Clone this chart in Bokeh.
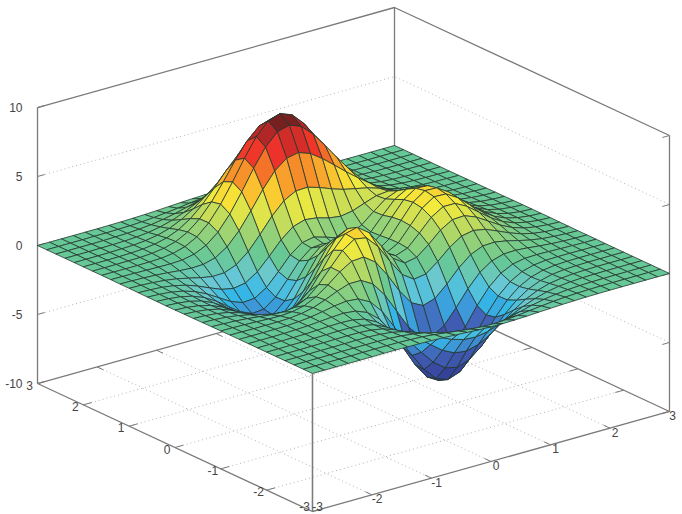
from bokeh.plotting import figure
from bokeh.models import Range1d
from bokeh.core.properties import value
from bokeh.embed import file_html
from bokeh.resources import INLINE

# Surface heights, typed by hand as estimates on the picture's 0.2 mesh (30 cells a side).
# The picture looks like the well-known "peaks" surface, so that shape guided the
# estimates, checked against the extrema seen in the picture.
grid_x = [-3, -2.8, -2.6, -2.4, -2.2, -2, -1.8, -1.6, -1.4, -1.2, -1, -.8, -.6, -.4, -.2, 0,
          .2, .4, .6, .8, 1, 1.2, 1.4, 1.6, 1.8, 2, 2.2, 2.4, 2.6, 2.8, 3]
grid_y = [-3, -2.8, -2.6, -2.4, -2.2, -2, -1.8, -1.6, -1.4, -1.2, -1, -.8, -.6, -.4, -.2, 0,
          .2, .4, .6, .8, 1, 1.2, 1.4, 1.6, 1.8, 2, 2.2, 2.4, 2.6, 2.8, 3]
heights = [
    [0,0,0,0,0,0,.01,.01,0,-.01,-.03,-.06,-.11,-.16,-.21,-.24,-.25,-.23,-.2,-.15,-.11,-.07,-.04,-.02,-.01,0,0,0,0,0,0],
    [0,0,0,0,0,.01,.01,.01,0,-.03,-.07,-.15,-.26,-.37,-.48,-.55,-.57,-.53,-.45,-.35,-.25,-.16,-.09,-.05,-.02,-.01,0,0,0,0,0],
    [0,0,0,0,.01,.01,.01,.01,-.01,-.07,-.17,-.33,-.55,-.79,-1.01,-1.15,-1.18,-1.1,-.94,-.72,-.5,-.32,-.19,-.1,-.05,-.02,-.01,0,0,0,0],
    [0,0,0,.01,.01,.02,.03,.02,-.02,-.12,-.31,-.61,-1.0,-1.43,-1.83,-2.09,-2.15,-2.01,-1.7,-1.31,-.91,-.58,-.33,-.17,-.08,-.03,-.01,0,0,0,0],
    [0,0,0,.01,.02,.03,.04,.03,-.03,-.18,-.48,-.95,-1.58,-2.28,-2.93,-3.36,-3.48,-3.25,-2.76,-2.12,-1.47,-.93,-.53,-.27,-.13,-.05,-.02,0,0,0,0],
    [0,0,.01,.01,.03,.05,.07,.07,0,-.19,-.59,-1.24,-2.14,-3.15,-4.1,-4.76,-4.96,-4.66,-3.96,-3.03,-2.1,-1.31,-.74,-.37,-.16,-.06,-.02,0,0,0,0],
    [0,0,.01,.02,.03,.07,.11,.13,.09,-.09,-.53,-1.29,-2.38,-3.68,-4.93,-5.83,-6.16,-5.84,-4.97,-3.8,-2.61,-1.6,-.87,-.42,-.17,-.05,-.01,0,0,0,0],
    [0,0,0,.01,.04,.08,.15,.22,.27,.18,-.16,-.87,-1.99,-3.42,-4.89,-6.03,-6.54,-6.28,-5.38,-4.09,-2.76,-1.63,-.83,-.34,-.1,0,.02,.02,.01,.01,0],
    [0,0,0,0,.02,.07,.16,.31,.48,.59,.51,.06,-.86,-2.2,-3.73,-5.04,-5.77,-5.7,-4.92,-3.68,-2.38,-1.28,-.52,-.1,.07,.1,.08,.05,.03,.01,.01],
    [0,-.01,-.02,-.02,-.02,.01,.11,.3,.62,1.0,1.3,1.3,.81,-.23,-1.64,-3.04,-3.98,-4.18,-3.64,-2.61,-1.47,-.53,.06,.32,.35,.28,.18,.1,.05,.02,.01],
    [-.01,-.02,-.04,-.07,-.11,-.13,-.07,.12,.53,1.15,1.86,2.38,2.44,1.84,.66,-.73,-1.83,-2.28,-2.0,-1.2,-.27,.45,.83,.87,.72,.5,.3,.16,.08,.03,.01],
    [-.01,-.04,-.08,-.15,-.25,-.36,-.4,-.29,.12,.87,1.88,2.86,3.44,3.29,2.4,1.09,-.09,-.68,-.54,.12,.91,1.48,1.65,1.49,1.13,.75,.44,.23,.11,.05,.02],
    [-.02,-.05,-.12,-.24,-.42,-.65,-.85,-.91,-.63,.12,1.28,2.56,3.52,3.74,3.11,1.93,.78,.19,.36,1.05,1.85,2.36,2.41,2.07,1.54,1.01,.59,.31,.15,.06,.02],
    [-.03,-.07,-.16,-.32,-.59,-.95,-1.33,-1.6,-1.51,-.9,.26,1.68,2.87,3.34,2.93,1.9,.87,.41,.72,1.57,2.47,3.0,2.99,2.54,1.87,1.22,.71,.37,.18,.07,.03],
    [-.03,-.08,-.19,-.39,-.72,-1.2,-1.74,-2.2,-2.33,-1.89,-.82,.61,1.91,2.55,2.31,1.46,.6,.31,.79,1.8,2.82,3.4,3.37,2.85,2.1,1.37,.79,.41,.2,.08,.03],
    [-.04,-.09,-.21,-.43,-.8,-1.33,-1.98,-2.58,-2.86,-2.58,-1.65,-.29,1.02,1.75,1.66,.98,.29,.16,.77,1.87,2.94,3.54,3.5,2.95,2.17,1.41,.82,.43,.2,.08,.03],
    [-.04,-.09,-.2,-.42,-.79,-1.34,-2.01,-2.66,-3.03,-2.88,-2.1,-.88,.36,1.1,1.11,.6,.07,.04,.7,1.79,2.82,3.4,3.35,2.83,2.07,1.35,.78,.41,.19,.08,.03],
    [-.03,-.08,-.18,-.38,-.72,-1.22,-1.84,-2.46,-2.85,-2.77,-2.14,-1.09,0,.7,.78,.41,.01,.05,.66,1.62,2.53,3.03,2.98,2.51,1.84,1.2,.69,.36,.17,.07,.03],
    [-.03,-.07,-.15,-.32,-.6,-1.01,-1.53,-2.04,-2.36,-2.29,-1.75,-.84,.13,.78,.94,.69,.39,.41,.86,1.58,2.25,2.6,2.51,2.09,1.52,.99,.57,.3,.14,.06,.02],
    [-.02,-.05,-.11,-.24,-.44,-.75,-1.12,-1.47,-1.64,-1.49,-.92,-.04,.91,1.62,1.89,1.78,1.53,1.41,1.56,1.88,2.18,2.27,2.08,1.67,1.2,.77,.44,.23,.11,.04,.02],
    [-.01,-.03,-.08,-.16,-.29,-.48,-.69,-.85,-.82,-.48,.23,1.23,2.32,3.19,3.66,3.69,3.43,3.09,2.81,2.62,2.44,2.17,1.8,1.36,.93,.58,.33,.17,.08,.03,.01],
    [-.01,-.02,-.05,-.09,-.16,-.25,-.31,-.28,-.04,.51,1.43,2.63,3.93,5.04,5.72,5.89,5.58,4.98,4.27,3.54,2.86,2.23,1.65,1.15,.74,.44,.24,.12,.05,.02,.01],
    [0,-.01,-.02,-.04,-.06,-.07,-.03,.15,.55,1.26,2.34,3.7,5.17,6.46,7.32,7.57,7.24,6.44,5.38,4.26,3.2,2.29,1.56,1.0,.6,.34,.17,.08,.04,.02,.01],
    [0,0,-.01,-.01,0,.03,.14,.39,.86,1.63,2.74,4.11,5.59,6.91,7.81,8.1,7.77,6.9,5.71,4.42,3.21,2.2,1.41,.85,.48,.26,.13,.06,.03,.01,0],
    [0,0,0,.01,.02,.08,.2,.45,.9,1.61,2.6,3.82,5.14,6.31,7.13,7.41,7.11,6.31,5.2,3.98,2.84,1.89,1.18,.69,.37,.19,.09,.04,.02,.01,0],
    [0,0,0,.01,.03,.08,.19,.4,.76,1.32,2.1,3.05,4.07,4.99,5.63,5.86,5.62,4.99,4.1,3.12,2.21,1.45,.89,.51,.27,.13,.06,.03,.01,0,0],
    [0,0,0,.01,.03,.06,.14,.29,.54,.94,1.47,2.13,2.83,3.47,3.91,4.07,3.91,3.47,2.85,2.16,1.52,.99,.6,.34,.18,.09,.04,.02,.01,0,0],
    [0,0,0,.01,.02,.04,.09,.18,.34,.58,.91,1.32,1.75,2.14,2.41,2.51,2.41,2.14,1.75,1.33,.93,.6,.37,.2,.1,.05,.02,.01,0,0,0],
    [0,0,0,0,.01,.03,.05,.11,.19,.33,.51,.73,.96,1.18,1.33,1.38,1.33,1.18,.96,.73,.51,.33,.2,.11,.06,.03,.01,0,0,0,0],
    [0,0,0,0,.01,.01,.03,.05,.09,.16,.25,.35,.47,.57,.64,.67,.64,.57,.47,.35,.25,.16,.09,.05,.03,.01,.01,0,0,0,0],
    [0,0,0,0,0,0,.01,.02,.04,.07,.11,.16,.21,.25,.28,.3,.28,.25,.21,.16,.11,.07,.04,.02,.01,0,0,0,0,0,0],
]
assert len(heights) == len(grid_y) and all(len(r) == len(grid_x) for r in heights)
x_ticks = [-3, -2, -1, 0, 1, 2, 3]
y_ticks = [-3, -2, -1, 0, 1, 2, 3]
z_ticks = [-10, -5, 0, 5, 10]

# Colour ramp: (height, colour)
ramp = [(-6.2, (44, 56, 140)), (-5.0, (58, 72, 160)), (-3.2, (66, 100, 185)), (-2.6, (62, 150, 215)),
        (-1.9, (52, 184, 232)), (-1.0, (108, 200, 210)), (0, (102, 200, 150)), (1.2, (150, 210, 120)),
        (2.2, (205, 222, 85)), (3.0, (246, 236, 58)), (3.9, (250, 190, 46)), (5.0, (245, 125, 40)),
        (6.1, (238, 50, 42)), (7.0, (190, 40, 40)), (7.7, (118, 32, 32))]

def colour(z):
    if z <= ramp[0][0]:
        c = ramp[0][1]
    elif z >= ramp[-1][0]:
        c = ramp[-1][1]
    else:
        for (a, ca), (b, cb) in zip(ramp, ramp[1:]):
            if a <= z <= b:
                t = (z - a) / (b - a)
                c = tuple(round(u + (v - u) * t) for u, v in zip(ca, cb))
                break
    return "#%02x%02x%02x" % c

# Oblique view of the box, in page pixels
def sx(x, y):
    return 353 + 59.5 * x - 45.83 * y

def sy(x, y, z):
    return 259 - 16.67 * x - 21.33 * y - 13.8 * z

W, H = 682, 514
p = figure(width=W, height=H, x_range=Range1d(0, W), y_range=Range1d(H, 0),
           toolbar_location=None, output_backend="svg", min_border=0,
           x_axis_type=None, y_axis_type=None, outline_line_color=None)
p.grid.visible = False

AX = "#7a7a7a"
GR = "#b4b4b4"

def seg(pts, colour_, width=1.3, dash="solid"):
    p.line([sx(a, b) for a, b, _ in pts], [sy(a, b, c) for a, b, c in pts],
           line_color=colour_, line_width=width, line_dash=dash)

x0, x1, y0, y1 = x_ticks[0], x_ticks[-1], y_ticks[0], y_ticks[-1]
z0, z1 = z_ticks[0], z_ticks[-1]

# Dotted wall and floor grids
for z in z_ticks[1:-1]:
    seg([(x0, y1, z), (x1, y1, z), (x1, y0, z)], GR, 1, "1 3")
for x in x_ticks[1:-1]:
    seg([(x, y0, z0), (x, y1, z0)], GR, 1, "1 3")
for y in y_ticks[1:-1]:
    seg([(x0, y, z0), (x1, y, z0)], GR, 1, "1 3")

# Box edges
seg([(x0, y0, z0), (x0, y1, z0), (x1, y1, z0), (x1, y0, z0), (x0, y0, z0)], AX)
seg([(x0, y1, z1), (x1, y1, z1), (x1, y0, z1)], AX)
seg([(x0, y1, z0), (x0, y1, z1)], AX)
seg([(x1, y1, z0), (x1, y1, z1)], AX)
seg([(x1, y0, z0), (x1, y0, z1)], AX)
seg([(x0, y0, z0), (x0, y0, z1)], AX)

# Ticks
for z in z_ticks:
    seg([(x0, y1, z), (x0 + .12, y1, z)], AX, 1)
    seg([(x1, y0, z), (x1 - .12, y0, z)], AX, 1)
for x in x_ticks[1:-1]:
    seg([(x, y0, z0), (x, y0 + .14, z0)], AX, 1)
    seg([(x, y1, z0), (x, y1 - .14, z0)], AX, 1)
for y in y_ticks[1:-1]:
    seg([(x0, y, z0), (x0 + .14, y, z0)], AX, 1)
    seg([(x1, y, z0), (x1 - .14, y, z0)], AX, 1)

# Surface cells, farthest first
xs, ys, fills = [], [], []
for j in range(len(grid_y) - 1, 0, -1):
    for i in range(len(grid_x) - 1, 0, -1):
        corners = [(i - 1, j - 1), (i, j - 1), (i, j), (i - 1, j)]
        xs.append([sx(grid_x[a], grid_y[b]) for a, b in corners])
        ys.append([sy(grid_x[a], grid_y[b], heights[b][a]) for a, b in corners])
        fills.append(colour(sum(heights[b][a] for a, b in corners) / 4))
p.patches(xs, ys, fill_color=fills, line_color="#24382f", line_alpha=0.8, line_width=1)

seg([(x0, y0, z0), (x0, y0, 0)], AX)

FONT = value("Liberation Sans")
def label(px, py, text, align="center"):
    p.text([min(px, 672)], [min(py, 506)], text=[text], text_font=FONT, text_font_size="12px",
           text_color="#444444", text_align=align, text_baseline="middle")

for z in z_ticks:
    label(sx(x0, y1) - 15, sy(x0, y1, z), str(z), "right")
for x in x_ticks:
    label(sx(x, y0) + 5, sy(x, y0, z0) + 4, str(x))
for y in y_ticks:
    label(sx(x0, y) - 8, sy(x0, y, z0) + 1.5, str(y))

open("out.html", "w").write(file_html(p, INLINE))
